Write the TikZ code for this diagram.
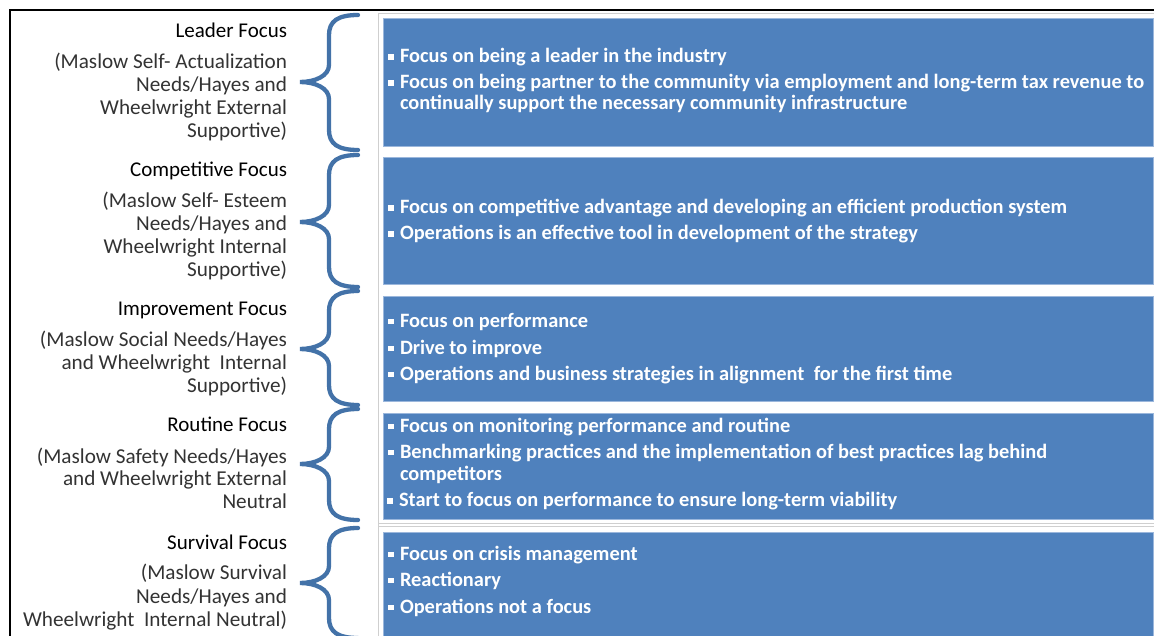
\documentclass[tikz,border=0pt]{standalone}
\usepackage{fontspec}
\setmainfont{Carlito}
\definecolor{boxfill}{HTML}{4F81BD}
\definecolor{boxline}{HTML}{9BB7DC}
\definecolor{bracecol}{HTML}{4372A8}
\definecolor{gridgray}{HTML}{CFCFCF}
\newcommand\bulsq{\makebox[12pt][l]{\rule[3pt]{5.5pt}{5.5pt}}}
\newcommand\mybrace[3]{\draw[brace] (358,#1) .. controls (338,#1) and (329,#1+6) .. (329,#1+20) -- (329,#2-17) .. controls (329,#2-6) and (315,#2) .. (300,#2) .. controls (315,#2) and (329,#2+6) .. (329,#2+17) -- (329,#3-20) .. controls (329,#3-6) and (338,#3) .. (358,#3);}
\tikzset{
  every node/.style={inner sep=0pt, outer sep=0pt},
  ttl/.style={anchor=base east, font=\fontsize{21}{23}\selectfont, text=black},
  sub/.style={anchor=base east, font=\fontsize{21.2}{23}\selectfont, text=black!80},
  itm/.style={anchor=base west, font=\bfseries\fontsize{20.4}{21}\selectfont, text=white},
  bluebox/.style={draw=boxline, fill=boxfill, line width=1pt, anchor=north west, minimum width=770pt},
  brace/.style={draw=bracecol, line width=4.3pt, line cap=round},
  gridline/.style={draw=gridgray, line width=1pt},
  frameline/.style={draw=black, line width=2.5pt},
}
\begin{document}
\begin{tikzpicture}[x=1pt,y=-1pt]
\useasboundingbox (0,0) rectangle (1154,636);
\fill[white] (0,0) rectangle (1154,636);
% outer frame
\draw[frameline] (10,640) -- (10,10) -- (1160,10);
% table grid lines
\draw[gridline] (378,640) -- (378,14) -- (1160,14);
\draw[gridline] (378,523.5) -- (1160,523.5);
\draw[gridline] (378,526.5) -- (1160,526.5);
% boxes
\node[bluebox, minimum height=128pt] (box1) at (383,19) {};
\node[bluebox, minimum height=127pt] (box2) at (383,158) {};
\node[bluebox, minimum height=104pt] (box3) at (383,297) {};
\node[bluebox, minimum height=106pt] (box4) at (383,413) {};
\node[bluebox, minimum height=104pt] (box5) at (383,532) {};
% braces
\mybrace{15}{82}{150}
\mybrace{155}{222}{287}
\mybrace{291}{349}{405}
\mybrace{409}{464}{520}
\mybrace{528}{583}{638}
% left labels
\node[ttl] (t1) at (287,38) {Leader Focus};
\node[sub] (s1a) at (287,69) {(Maslow Self- Actualization};
\node[sub] (s1b) at (287,92) {Needs/Hayes and};
\node[sub] (s1c) at (287,115) {Wheelwright External};
\node[sub] (s1d) at (287,138) {Supportive)};
\node[ttl] (t2) at (287,177) {Competitive Focus};
\node[sub] (s2a) at (287,208) {(Maslow Self- Esteem};
\node[sub] (s2b) at (287,231) {Needs/Hayes and};
\node[sub] (s2c) at (287,254) {Wheelwright Internal};
\node[sub] (s2d) at (287,277) {Supportive)};
\node[ttl] (t3) at (287,316) {Improvement Focus};
\node[sub] (s3a) at (287,346) {(Maslow Social Needs/Hayes};
\node[sub] (s3b) at (287,369) {and Wheelwright\ \ Internal};
\node[sub] (s3c) at (287,392) {Supportive)};
\node[ttl] (t4) at (287,431) {Routine Focus};
\node[sub] (s4a) at (287,463) {(Maslow Safety Needs/Hayes};
\node[sub] (s4b) at (287,485) {and Wheelwright External};
\node[sub] (s4c) at (287,508) {Neutral};
\node[ttl] (t5) at (287,549) {Survival Focus};
\node[sub] (s5a) at (287,579) {(Maslow Survival};
\node[sub] (s5b) at (287,603) {Needs/Hayes and};
\node[sub] (s5c) at (287,626) {Wheelwright\ \ Internal Neutral)};
% box texts
\node[itm] (b1a) at (388,63) {\bulsq Focus on being a leader in the industry};
\node[itm] (b1b) at (388,89) {\bulsq Focus on being partner to the community via employment and long-term tax revenue to};
\node[itm] (b1c) at (400,110) {continually support the necessary community infrastructure};
\node[itm] (b2a) at (388,214) {\bulsq Focus on competitive advantage and developing an efficient production system};
\node[itm] (b2b) at (388,240) {\bulsq Operations is an effective tool in development of the strategy};
\node[itm] (b3a) at (388,327) {\bulsq Focus on performance};
\node[itm] (b3b) at (388,354) {\bulsq Drive to improve};
\node[itm] (b3c) at (388,380) {\bulsq Operations and business strategies in alignment\ \ for the first time};
\node[itm] (b4a) at (388,432) {\bulsq Focus on monitoring performance and routine};
\node[itm] (b4b) at (388,458) {\bulsq Benchmarking practices and the implementation of best practices lag behind};
\node[itm] (b4c) at (400,480) {competitors};
\node[itm] (b4d) at (387,506.5) {\bulsq Start to focus on performance to ensure long-term viability};
\node[itm] (b5a) at (388,560) {\bulsq Focus on crisis management};
\node[itm] (b5b) at (388,586) {\bulsq Reactionary};
\node[itm] (b5c) at (388,613) {\bulsq Operations not a focus};
\end{tikzpicture}
\end{document}
